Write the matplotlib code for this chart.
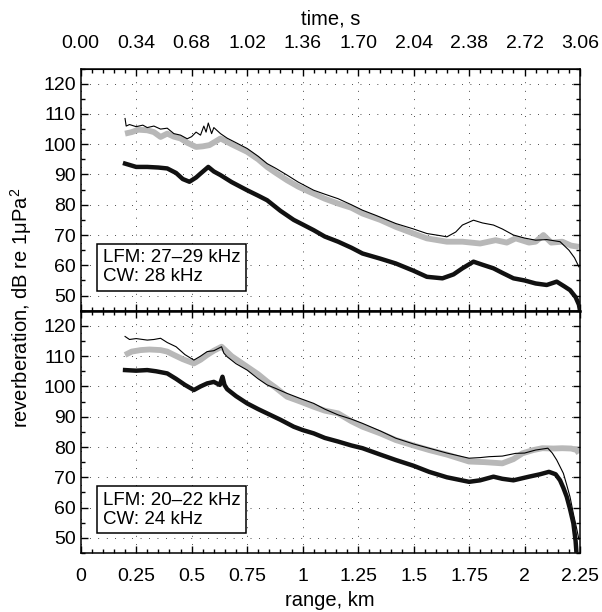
import matplotlib
matplotlib.use('Agg')
import matplotlib.pyplot as plt
from matplotlib.ticker import MultipleLocator, FixedLocator, FormatStrFormatter

plt.rcParams['font.family'] = ['Liberation Sans', 'DejaVu Sans']
plt.rcParams['mathtext.fontset'] = 'custom'
plt.rcParams['mathtext.rm'] = 'Liberation Sans'
plt.rcParams['mathtext.it'] = 'Liberation Sans'

# верхняя панель: LFM 27-29 kHz, CW 28 kHz
top_thin_x = [0.20, 0.205, 0.22, 0.25, 0.28, 0.30, 0.33, 0.36, 0.39, 0.42, 0.45, 0.48, 0.50, 0.52,
              0.54, 0.555, 0.565, 0.575, 0.59, 0.60, 0.615, 0.63, 0.66, 0.70, 0.75, 0.80, 0.84, 0.88,
              0.93, 0.98, 1.05, 1.10, 1.16, 1.22, 1.27, 1.33, 1.42, 1.50, 1.56, 1.62, 1.65, 1.69,
              1.72, 1.77, 1.81, 1.86, 1.90, 1.95, 2.00, 2.05, 2.10, 2.16, 2.20, 2.225, 2.245]
top_thin_y = [108.5, 106, 106.5, 105.8, 106.3, 105.5, 106, 105, 105.3, 103.5, 103, 101.8, 102.5, 104,
              103, 106, 104, 107, 103.5, 105.5, 104.5, 103.5, 102, 100.5, 98.6, 96, 93.6, 92,
              89.8, 87.5, 84.8, 83.5, 82, 80, 78.2, 76.5, 73.8, 72, 70.5, 69.8, 69.4, 71,
              73.3, 74.9, 74, 73.3, 72, 70, 69, 68.3, 68.5, 67.8, 65, 62.5, 59.5]

top_gray_x = [0.20, 0.23, 0.26, 0.30, 0.33, 0.36, 0.39, 0.42, 0.45, 0.48, 0.52, 0.55, 0.58, 0.61,
              0.63, 0.68, 0.75, 0.80, 0.84, 0.88, 0.93, 0.98, 1.03, 1.10, 1.16, 1.22, 1.27, 1.35,
              1.42, 1.50, 1.56, 1.65, 1.72, 1.80, 1.87, 1.92, 1.96, 2.02, 2.05, 2.085, 2.12, 2.17,
              2.21, 2.245]
top_gray_y = [103.5, 104, 104.8, 104.6, 104, 102.4, 103.5, 102.5, 101.9, 100.5, 99.1, 99.3, 99.7, 101,
              101.9, 100, 97.5, 95, 92.5, 90.5, 88.1, 86, 84.3, 82, 80.4, 79, 77.1, 75,
              72.7, 70.5, 68.9, 67.8, 67.8, 67.2, 68.3, 67.5, 68.9, 67.5, 67.8, 70, 67.5, 67.8,
              66.5, 66.1]

top_thick_x = [0.20, 0.25, 0.30, 0.35, 0.39, 0.43, 0.46, 0.49, 0.52, 0.54, 0.575, 0.60, 0.63, 0.68,
               0.75, 0.80, 0.84, 0.90, 0.96, 1.00, 1.05, 1.10, 1.16, 1.22, 1.27, 1.35, 1.42, 1.50,
               1.56, 1.63, 1.68, 1.72, 1.77, 1.81, 1.86, 1.90, 1.95, 2.00, 2.05, 2.10, 2.145, 2.18,
               2.205, 2.23, 2.245, 2.25]
top_thick_y = [93.6, 92.5, 92.5, 92.3, 92, 90.5, 88.5, 87.6, 89, 90.3, 92.5, 91, 89.8, 87.5,
               84.8, 83, 81.5, 78, 75, 73.5, 71.6, 69.5, 67.8, 65.8, 63.9, 62.2, 60.6, 58.2,
               56.2, 55.7, 57, 59, 61.2, 60.2, 59, 57.5, 55.7, 55, 54, 53.5, 54.6, 53,
               51.8, 49.5, 47, 45]

# нижняя панель: LFM 20-22 kHz, CW 24 kHz
bot_thin_x = [0.20, 0.22, 0.25, 0.30, 0.33, 0.36, 0.39, 0.43, 0.47, 0.51, 0.54, 0.57, 0.60, 0.635,
              0.645, 0.66, 0.70, 0.75, 0.80, 0.84, 0.88, 0.93, 0.99, 1.05, 1.10, 1.16, 1.22, 1.27,
              1.35, 1.42, 1.50, 1.57, 1.65, 1.75, 1.80, 1.84, 1.90, 1.96, 2.00, 2.05, 2.105, 2.125,
              2.145, 2.16, 2.175, 2.19, 2.205, 2.22, 2.235, 2.245]
bot_thin_y = [116.5, 115.5, 115.8, 115.3, 115.5, 115.9, 114.5, 113.1, 110.5, 108.7, 110, 111.5, 111.8, 113.1,
              111, 109.8, 107.5, 105.4, 102.5, 100.5, 99.3, 97.7, 96, 94.4, 92.5, 90.6, 89.2, 87.8,
              85.3, 82.9, 81, 79.6, 78, 76.3, 76.5, 76.8, 77, 77.9, 78, 79, 79.6, 78,
              75.7, 73.5, 71.3, 67.5, 63.5, 58, 53, 49.5]

bot_gray_x = [0.20, 0.23, 0.27, 0.31, 0.36, 0.39, 0.42, 0.46, 0.51, 0.54, 0.57, 0.60, 0.635, 0.68,
              0.75, 0.80, 0.84, 0.88, 0.93, 0.99, 1.05, 1.10, 1.16, 1.22, 1.27, 1.35, 1.42, 1.50,
              1.57, 1.65, 1.75, 1.82, 1.90, 1.95, 1.99, 2.04, 2.08, 2.13, 2.17, 2.21, 2.235, 2.245]
bot_gray_y = [110.4, 111.5, 112, 112.2, 112, 111.5, 110.4, 109, 107.6, 108.8, 110.4, 111.8, 113.1, 110,
              106.5, 104, 101.6, 99.5, 96.6, 95, 93.3, 92, 91.1, 88.5, 86.7, 84.5, 82.3, 80.5,
              79, 77.5, 75.2, 75, 74.6, 76, 77.9, 79, 79.6, 79.5, 79.6, 79.5, 79, 77.9]

bot_thick_x = [0.20, 0.25, 0.30, 0.34, 0.39, 0.43, 0.47, 0.51, 0.54, 0.57, 0.60, 0.627, 0.639, 0.648,
               0.66, 0.70, 0.75, 0.80, 0.84, 0.90, 0.96, 1.00, 1.05, 1.10, 1.16, 1.22, 1.27, 1.35,
               1.42, 1.50, 1.57, 1.65, 1.75, 1.80, 1.86, 1.90, 1.95, 2.02, 2.07, 2.11, 2.14, 2.16,
               2.175, 2.19, 2.205, 2.22, 2.23, 2.235]
bot_thick_y = [105.4, 105.2, 105.4, 105, 104.3, 102.5, 100.5, 98.8, 100, 101, 101.5, 100.5, 103.2, 100.5,
               99.1, 96.8, 94.4, 92.5, 91.1, 89, 86.7, 85.6, 84.5, 83, 81.8, 80.5, 79.6, 77.5,
               75.7, 73.8, 71.8, 70, 68.5, 69, 70.2, 69.5, 69, 70.2, 71, 71.8, 71, 69,
               66.5, 63.6, 59.5, 54.8, 49, 44]

labels = ['LFM: 27\u201329 kHz\nCW: 28 kHz', 'LFM: 20\u201322 kHz\nCW: 24 kHz']
range_ticks = [0, 0.25, 0.5, 0.75, 1, 1.25, 1.5, 1.75, 2, 2.25]
range_labels = ['0', '0.25', '0.5', '0.75', '1', '1.25', '1.5', '1.75', '2', '2.25']
time_ticks = [0.00, 0.34, 0.68, 1.02, 1.36, 1.70, 2.04, 2.38, 2.72, 3.06]

fig = plt.figure(figsize=(6.02, 6.12), dpi=100)
ax1 = fig.add_axes([0.134, 0.4923, 0.8295, 0.3957])
ax2 = fig.add_axes([0.134, 0.0964, 0.8295, 0.3959])

panels = [
    (ax1, top_thin_x, top_thin_y, top_gray_x, top_gray_y, top_thick_x, top_thick_y),
    (ax2, bot_thin_x, bot_thin_y, bot_gray_x, bot_gray_y, bot_thick_x, bot_thick_y),
]

for i, (ax, tx, ty, gx, gy, kx, ky) in enumerate(panels):
    ax.plot(gx, gy, color='#b8b8b8', lw=4.2, solid_capstyle='butt', zorder=2)
    ax.plot(tx, ty, color='black', lw=0.8, zorder=3)
    ax.plot(kx, ky, color='#111111', lw=3.2, zorder=4)
    ax.set_xlim(0, 2.25)
    ax.set_ylim(45, 125)
    ax.xaxis.set_major_locator(FixedLocator(range_ticks))
    ax.xaxis.set_minor_locator(MultipleLocator(0.05))
    ax.yaxis.set_major_locator(FixedLocator([50, 60, 70, 80, 90, 100, 110, 120]))
    ax.yaxis.set_minor_locator(MultipleLocator(5))
    ax.tick_params(which='both', direction='in', top=True, bottom=True, left=True, right=True,
                   labelsize=14, width=1)
    ax.tick_params(which='major', length=5)
    ax.tick_params(which='minor', length=3)
    ax.tick_params(axis='x', pad=11)
    ax.grid(True, which='major', color='black', lw=0.7, linestyle=(0, (0.7, 8)))
    for sp in ax.spines.values():
        sp.set_linewidth(1.1)
    ax.text(0.044, 0.105, labels[i], transform=ax.transAxes, fontsize=13.5, ha='left', va='bottom',
            linespacing=1.15,
            bbox=dict(boxstyle='square,pad=0.3', facecolor='white', edgecolor='black', lw=1.1),
            zorder=5)

ax1.set_xticklabels([])
ax2.set_xticklabels(range_labels)
ax2.spines['top'].set_linewidth(1.8)

sec = ax1.secondary_xaxis('top', functions=(lambda k: k * 1.36, lambda s: s / 1.36))
sec.xaxis.set_major_locator(FixedLocator(time_ticks))
sec.xaxis.set_major_formatter(FormatStrFormatter('%.2f'))
sec.tick_params(length=0, labelsize=14, pad=12)

fig.text(0.5485, 1 - 19 / 612, 'time, s', ha='center', va='center', fontsize=14.5)
fig.text(0.5485, 1 - 601 / 612, 'range, km', ha='center', va='center', fontsize=14.5)
fig.text(21 / 602, 1 - 308 / 612, 'reverberation, dB re 1\u03bcPa$^2$', ha='center', va='center',
         rotation=90, fontsize=14.5)

fig.savefig('out.png', dpi=100)
